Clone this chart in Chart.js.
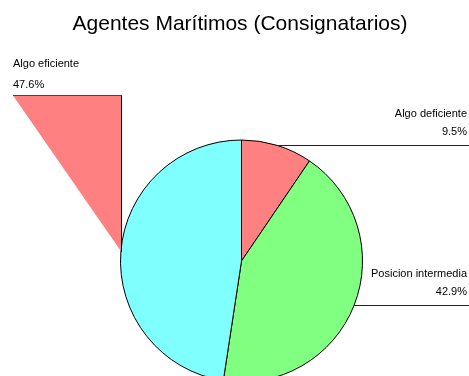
<!DOCTYPE html>
<html lang="es">
<head>
    <meta charset="UTF-8">
    <title>Agentes Marítimos (Consignatarios)</title>
    <script src="https://cdn.jsdelivr.net/npm/chart.js"></script>
    <style>
        body {
            margin: 0;
            background: #fff;
        }
        canvas {
            display: block;
        }
    </style>
</head>
<body>
    <canvas id="pieChart" width="469" height="376"></canvas>
    <script>
        const categories = ['Algo deficiente', 'Posicion intermedia', 'Algo eficiente'];
        const percentages = [9.5, 42.9, 47.6];
        const sliceColors = ['#FF8080', '#80FF80', '#80FFFF'];
        const chartTitle = 'Agentes Marítimos (Consignatarios)';

        const FONT = 'Arial, "Liberation Sans", sans-serif';

        // title and leader-line labels drawn on top of the pie
        const pieLabels = {
            id: 'pieLabels',
            afterDatasetsDraw(chart) {
                const ctx = chart.ctx;
                const meta = chart.getDatasetMeta(0);
                const W = chart.width;

                ctx.save();
                ctx.fillStyle = '#000';
                ctx.font = '21px ' + FONT;
                ctx.textAlign = 'center';
                ctx.textBaseline = 'alphabetic';
                ctx.fillText(chartTitle, 240, 30);

                ctx.font = '11px ' + FONT;
                ctx.textBaseline = 'middle';

                meta.data.forEach((arc, i) => {
                    const mid = (arc.startAngle + arc.endAngle) / 2;
                    const px = arc.x + Math.cos(mid) * arc.outerRadius;
                    const py = arc.y + Math.sin(mid) * arc.outerRadius;
                    const pct = percentages[i].toFixed(1) + '%';

                    if (Math.cos(mid) >= 0) {
                        // right side: line runs out to the edge, text right aligned
                        ctx.strokeStyle = '#222';
                        ctx.lineWidth = 1;
                        ctx.beginPath();
                        ctx.moveTo(px, Math.round(py) + 0.5);
                        ctx.lineTo(W, Math.round(py) + 0.5);
                        ctx.stroke();
                        ctx.textAlign = 'right';
                        ctx.fillText(categories[i], W - 2, py - 31);
                        ctx.fillText(pct, W - 2, py - 13);
                    } else {
                        // left side: label parked in the upper corner
                        const ly = 95.5;
                        const lx = 13;
                        const vx = Math.round(px) + 0.5;
                        ctx.fillStyle = sliceColors[0];
                        ctx.beginPath();
                        ctx.moveTo(lx, ly);
                        ctx.lineTo(vx, ly);
                        ctx.lineTo(vx, py);
                        ctx.closePath();
                        ctx.fill();

                        ctx.strokeStyle = '#444';
                        ctx.beginPath();
                        ctx.moveTo(lx, ly);
                        ctx.lineTo(vx, ly);
                        ctx.stroke();
                        ctx.strokeStyle = '#000';
                        ctx.beginPath();
                        ctx.moveTo(vx, ly);
                        ctx.lineTo(vx, py);
                        ctx.stroke();

                        ctx.fillStyle = '#000';
                        ctx.textAlign = 'left';
                        ctx.fillText(categories[i], lx, ly - 32);
                        ctx.fillText(pct, lx, ly - 11);
                    }
                });
                ctx.restore();
            }
        };

        new Chart(document.getElementById('pieChart'), {
            type: 'pie',
            data: {
                labels: categories,
                datasets: [{
                    data: percentages,
                    backgroundColor: sliceColors,
                    borderColor: '#000',
                    borderWidth: 1,
                    radius: 121,
                    clip: false
                }]
            },
            options: {
                responsive: false,
                animation: false,
                layout: {
                    padding: { top: 146, bottom: 0, left: 14, right: 0 }
                },
                plugins: {
                    legend: { display: false },
                    tooltip: { enabled: false },
                    title: { display: false }
                }
            },
            plugins: [pieLabels]
        });
    </script>
</body>
</html>
